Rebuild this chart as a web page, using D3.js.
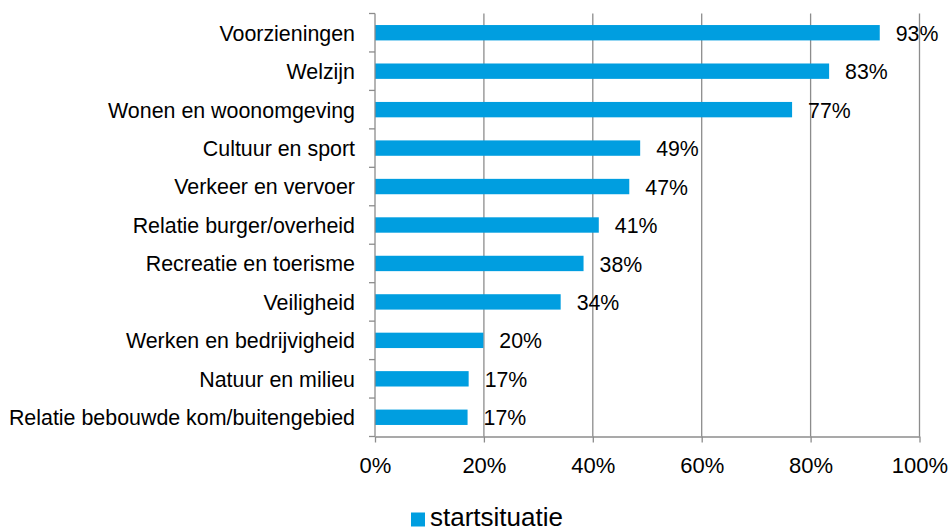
<!DOCTYPE html>
<html>
<head>
<meta charset="utf-8">
<script src="https://cdn.jsdelivr.net/npm/d3@7"></script>
<style>
  html, body { margin: 0; padding: 0; background: #fff; }
  svg { display: block; font-family: "Liberation Sans", Arial, Helvetica, sans-serif; }
</style>
</head>
<body>
<svg id="chart" width="951" height="530"></svg>
<script>
const categories = [
  "Voorzieningen",
  "Welzijn",
  "Wonen en woonomgeving",
  "Cultuur en sport",
  "Verkeer en vervoer",
  "Relatie burger/overheid",
  "Recreatie en toerisme",
  "Veiligheid",
  "Werken en bedrijvigheid",
  "Natuur en milieu",
  "Relatie bebouwde kom/buitengebied"
];
const values = [0.927, 0.834, 0.766, 0.487, 0.467, 0.411, 0.383, 0.341, 0.199, 0.172, 0.170];
const xTicks = [0, 0.2, 0.4, 0.6, 0.8, 1.0];
const seriesName = "startsituatie";

(function () {
const svg = d3.select("#chart");
const pLeft = 375, pRight = 919.5, pTop = 13.5, pBottom = 436.5;
const barColor = "#009EE0";
const gridColor = "#8C8C8C";

const x = d3.scaleLinear().domain([0, 1]).range([pLeft, pRight]);
const y = d3.scaleBand().domain(categories).range([pTop, pBottom]).paddingInner(0.6).paddingOuter(0.3);
const step = y.step();
const fmt = d3.format(".0%");

// gridlines
svg.append("g").selectAll("line").data(xTicks.slice(1)).join("line")
  .attr("x1", d => x(d)).attr("x2", d => x(d))
  .attr("y1", pTop).attr("y2", pBottom)
  .attr("stroke", gridColor).attr("stroke-width", 1.3);

// bars
svg.append("g").selectAll("rect").data(values).join("rect")
  .attr("x", x(0))
  .attr("y", (d, i) => y(categories[i]))
  .attr("width", d => x(d) - x(0))
  .attr("height", y.bandwidth())
  .attr("fill", barColor);

// data labels
svg.append("g").selectAll("text").data(values).join("text")
  .attr("x", d => x(d) + 16)
  .attr("y", (d, i) => y(categories[i]) + y.bandwidth() / 2)
  .attr("dy", "0.38em")
  .attr("font-size", 21.3)
  .attr("fill", "#000")
  .text(d => fmt(d));

// x axis
const xAxis = d3.axisBottom(x).tickValues(xTicks).tickFormat(fmt).tickSize(6).tickSizeOuter(0);
const gx = svg.append("g").attr("transform", `translate(0,${pBottom})`).call(xAxis);
gx.select(".domain").attr("stroke", gridColor).attr("stroke-width", 1.3);
gx.selectAll(".tick line").attr("stroke", gridColor).attr("stroke-width", 1.3);
gx.selectAll(".tick text").attr("font-size", 22).attr("fill", "#000")
  .attr("font-family", "Liberation Sans, Arial, sans-serif").attr("dy", "1.26em");

// y axis line
svg.append("line").attr("x1", pLeft).attr("x2", pLeft).attr("y1", pTop).attr("y2", pBottom)
  .attr("stroke", gridColor).attr("stroke-width", 1.3);
// y ticks at band boundaries
svg.append("g").selectAll("line").data(d3.range(categories.length + 1)).join("line")
  .attr("x1", pLeft - 6).attr("x2", pLeft)
  .attr("y1", i => pTop + i * step).attr("y2", i => pTop + i * step)
  .attr("stroke", gridColor).attr("stroke-width", 1.3);

// category labels
svg.append("g").selectAll("text").data(categories).join("text")
  .attr("x", 355)
  .attr("y", d => y(d) + y.bandwidth() / 2)
  .attr("dy", "0.37em")
  .attr("text-anchor", "end")
  .attr("font-size", 21.4)
  .attr("fill", "#000")
  .text(d => d);

// legend
const lg = svg.append("g");
lg.append("rect").attr("x", 411).attr("y", 512.5).attr("width", 14).attr("height", 14).attr("fill", barColor);
lg.append("text").attr("x", 430).attr("y", 526).attr("font-size", 26).attr("fill", "#000").text(seriesName);
})();
</script>
</body>
</html>
